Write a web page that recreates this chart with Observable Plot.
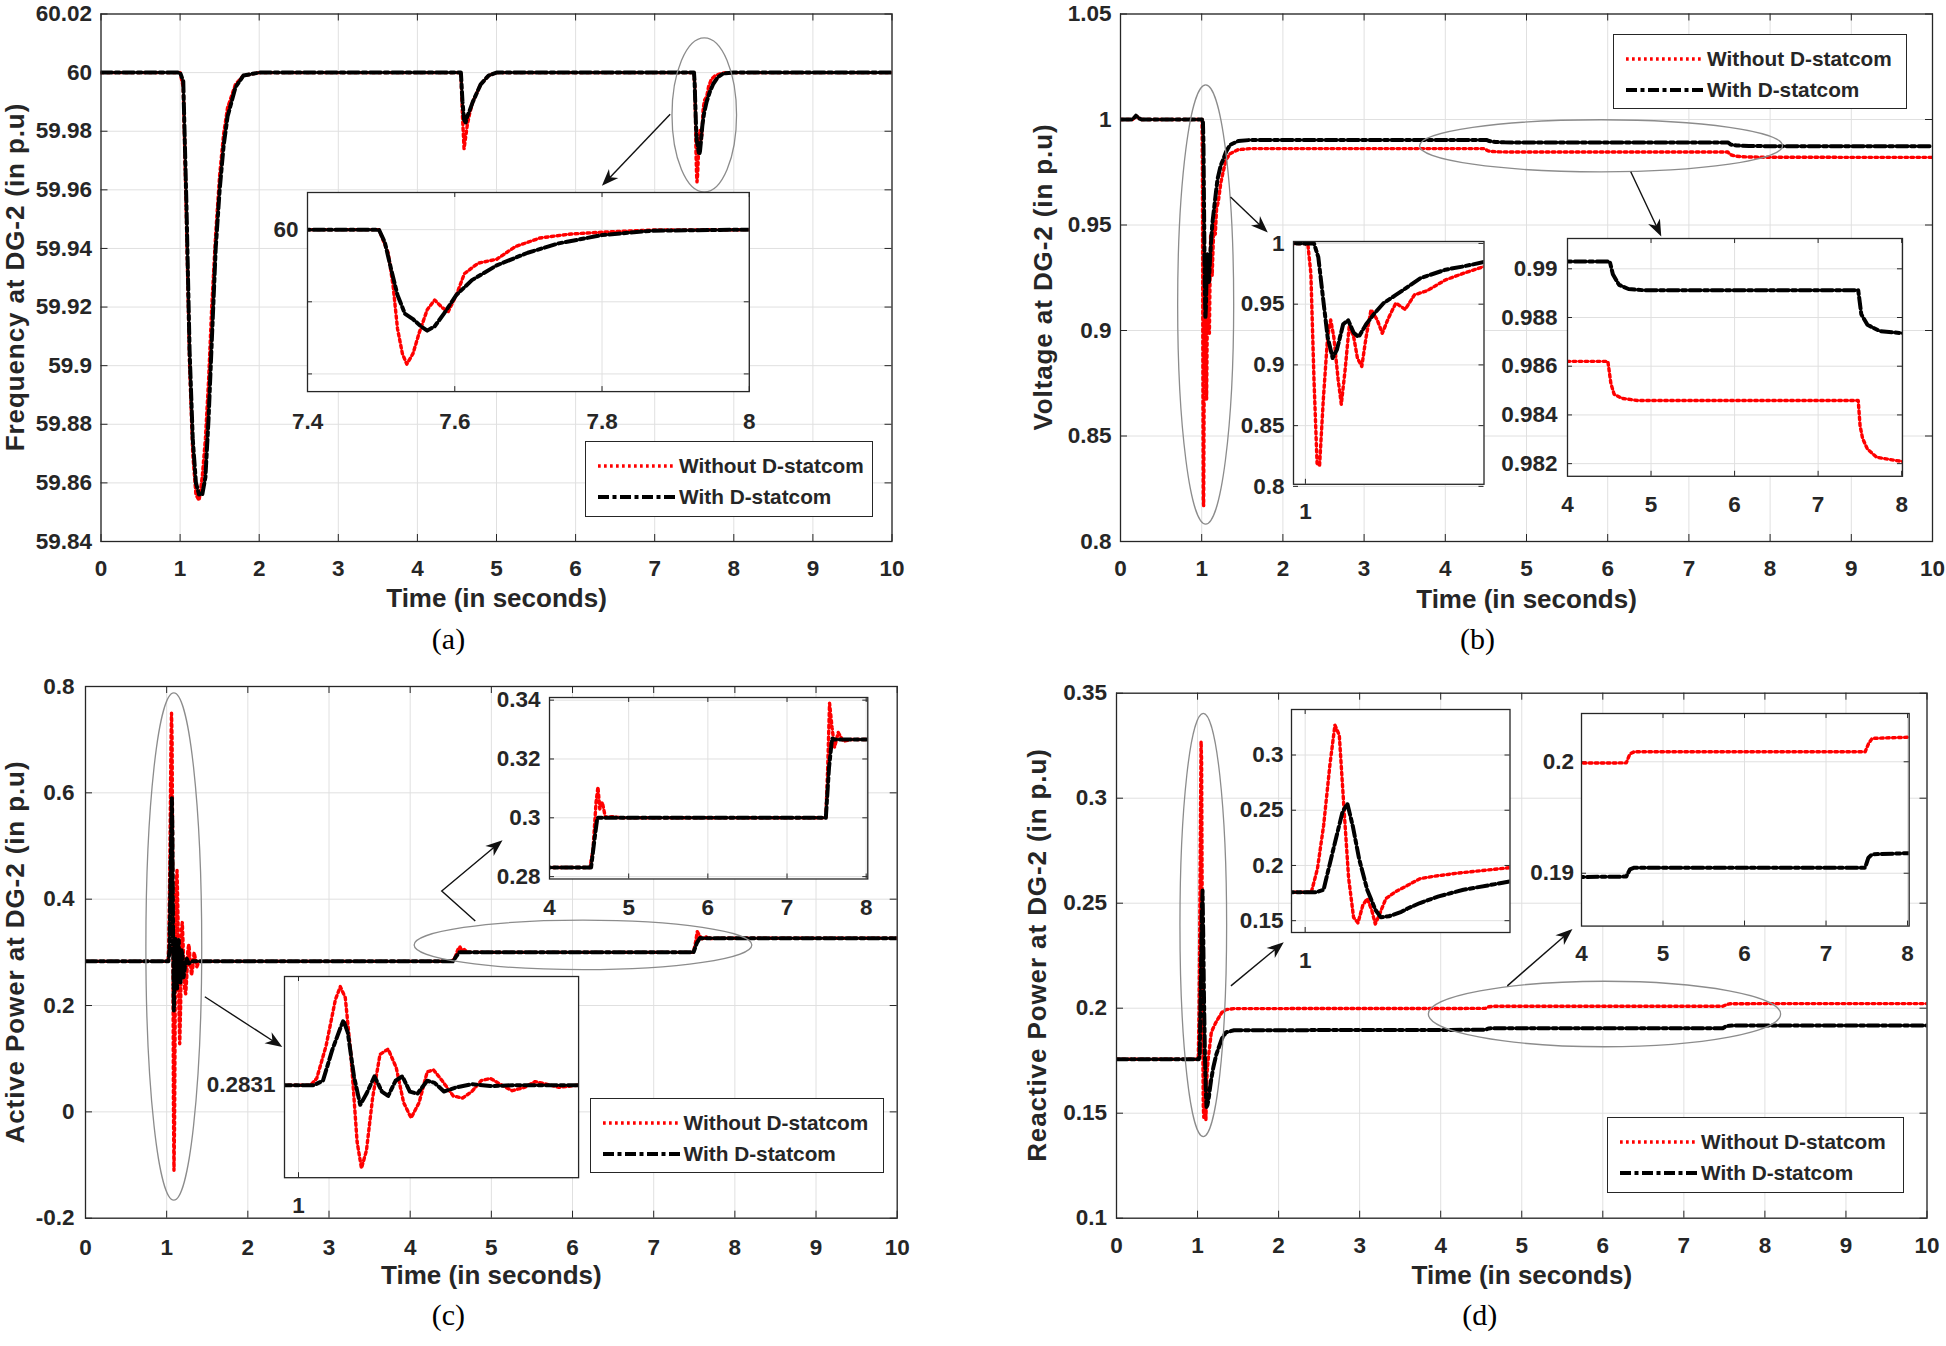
<!DOCTYPE html>
<html><head><meta charset="utf-8">
<script src="https://cdn.jsdelivr.net/npm/d3@7"></script>
<script src="https://cdn.jsdelivr.net/npm/@observablehq/plot@0.6"></script>
<style>
body{margin:0;background:#fff;}
#root{position:relative;width:1946px;height:1346px;overflow:hidden;background:#fff;font-family:"Liberation Sans",Arial,Helvetica,sans-serif;}
</style></head><body><div id="root"></div>
<script>
// ---------------- DATA ----------------
const timeTicks = [0,1,2,3,4,5,6,7,8,9,10];
const freqTicks = [59.84,59.86,59.88,59.9,59.92,59.94,59.96,59.98,60,60.02];
const voltTicks = [0.8,0.85,0.9,0.95,1,1.05];
const activeTicks = [-0.2,0,0.2,0.4,0.6,0.8];
const reactiveTicks = [0.1,0.15,0.2,0.25,0.3,0.35];
const seriesNames = ["Without D-statcom","With D-statcom"];

// (a) frequency
const freqTimeWithout = [0,1.0,1.04,1.08,1.12,1.16,1.2,1.24,1.28,1.32,1.36,1.4,1.45,1.5,1.55,1.6,1.7,1.8,2.0,
  4.55,4.57,4.59,4.61,4.63,4.66,4.7,4.75,4.8,4.9,5.0,
  7.497,7.5095,7.5163,7.5222,7.5289,7.5348,7.5432,7.5517,7.5626,7.5727,7.5828,7.5912,7.6022,7.6131,7.6317,7.657,7.6822,7.716,7.758,7.8086,7.8676,8.0,10];
const freqWithout = [60,60,59.995,59.95,59.9,59.87,59.856,59.854,59.862,59.875,59.895,59.92,59.945,59.965,59.979,59.988,59.996,59.999,60,
  60,59.985,59.974,59.978,59.982,59.986,59.99,59.993,59.996,59.999,60,
  60,59.9936,59.9843,59.9726,59.9656,59.9627,59.9656,59.9714,59.9778,59.9805,59.9784,59.9773,59.9819,59.9878,59.9907,59.9918,59.9953,59.9977,59.9988,59.9994,59.9999,60,60];
const freqTimeWith = [0,1.0,1.04,1.08,1.12,1.16,1.2,1.24,1.28,1.32,1.36,1.4,1.45,1.5,1.55,1.6,1.7,1.8,2.0,
  4.55,4.57,4.59,4.61,4.63,4.66,4.7,4.75,4.8,4.9,5.0,
  7.497,7.505,7.5137,7.5222,7.5323,7.5432,7.5542,7.5626,7.5727,7.5853,7.6022,7.6233,7.657,7.6991,7.7412,7.8002,7.8676,8.0,10];
const freqWith = [60,60,59.997,59.955,59.905,59.875,59.86,59.856,59.856,59.862,59.882,59.908,59.94,59.96,59.975,59.985,59.995,59.999,60,
  60,59.99,59.984,59.983,59.985,59.987,59.99,59.993,59.996,59.999,60,
  60,59.9965,59.9889,59.9819,59.9767,59.9752,59.9732,59.972,59.9732,59.9767,59.9819,59.986,59.9901,59.9936,59.9962,59.9985,59.9997,60,60];

// (b) voltage
const voltTimeWithout = [0,0.15,0.19,0.23,0.26,1.004,1.0092,1.0144,1.0196,1.0238,1.03,1.0373,1.0425,1.0477,1.055,1.0603,1.0665,1.0738,1.0811,1.0874,1.0947,1.102,1.1103,1.1207,1.1291,1.1395,1.152,1.1676,1.1832,1.2041,1.2354,1.2666,1.3,1.35,1.45,1.6,
  4.483,4.52,4.558,4.654,4.84,7.48,7.502,7.532,7.59,7.7,8,10];
const voltWithout = [1,1,1.0018,1.0005,1,1,0.975,0.888,0.819,0.817,0.871,0.923,0.937,0.923,0.888,0.8675,0.895,0.933,0.923,0.9056,0.8987,0.923,0.9455,0.937,0.926,0.9386,0.951,0.9456,0.9577,0.961,0.97,0.9756,0.981,0.9838,0.9857,0.9862,
  0.9862,0.98528,0.98485,0.98468,0.98459,0.98459,0.98356,0.98304,0.9826,0.98226,0.98209,0.98205];
const voltTimeWith = [0,0.15,0.19,0.23,0.26,1.0144,1.0217,1.029,1.0373,1.0457,1.053,1.0634,1.0717,1.0811,1.0894,1.102,1.1155,1.1311,1.152,1.1728,1.1937,1.2354,1.2666,1.3,1.35,1.45,1.6,
  4.506,4.543,4.617,4.73,4.91,7.48,7.517,7.59,7.74,8,10];
const voltWith = [1,1,1.0018,1.0005,1,1,0.9887,0.9576,0.923,0.9057,0.9126,0.9334,0.9369,0.9265,0.923,0.9334,0.9421,0.9508,0.9576,0.9646,0.9715,0.9784,0.9812,0.9847,0.988,0.9898,0.9903,
  0.9903,0.98978,0.98934,0.98917,0.98912,0.98912,0.98813,0.9877,0.98744,0.98736,0.98734];

// (c) active power
const activeTimeWithout = [0,1.0172,1.026,1.0394,1.0527,1.0597,1.0668,1.0748,1.0837,1.0899,1.097,1.1058,1.1164,1.128,1.1395,1.1501,1.1608,1.1723,1.1838,1.1927,1.205,1.221,1.2343,1.2476,1.2609,1.2741,1.2901,1.3052,1.3229,1.3379,1.3539,1.3716,1.4,
  4.51,4.549,4.588,4.612,4.635,4.667,4.706,4.784,4.9,7.49,7.514,7.537,7.569,7.6,7.647,7.71,7.804,8,10];
const activeWithout = [0.2831,0.2831,0.315,0.47,0.688,0.75,0.698,0.429,0.014,-0.11,-0.027,0.222,0.429,0.454,0.367,0.201,0.128,0.201,0.346,0.356,0.305,0.232,0.222,0.253,0.305,0.315,0.284,0.257,0.273,0.30,0.288,0.273,0.2831,
  0.2831,0.289,0.3053,0.3105,0.303,0.3053,0.3001,0.3004,0.3,0.3,0.3172,0.339,0.3306,0.324,0.329,0.326,0.3266,0.3266,0.3266];
const activeTimeWith = [0,1.0216,1.0349,1.0482,1.0597,1.0642,1.0704,1.0792,1.0881,1.097,1.1085,1.1191,1.128,1.1386,1.1483,1.159,1.1696,1.1838,1.1944,1.2077,1.2254,1.2476,1.2741,1.3096,1.4,
  4.525,4.565,4.604,7.49,7.53,7.569,7.6,10];
const activeWith = [0.2831,0.2831,0.304,0.45,0.553,0.59,0.532,0.325,0.19,0.242,0.325,0.253,0.232,0.304,0.325,0.253,0.242,0.304,0.294,0.253,0.273,0.288,0.279,0.2831,0.2831,
  0.2831,0.292,0.3,0.3,0.317,0.327,0.3266,0.3266];

// (d) reactive power
const reactiveTimeWithout = [0,1.009,1.018,1.027,1.0364,1.0436,1.05,1.0564,1.0636,1.0709,1.0773,1.0845,1.0909,1.0973,1.1027,1.1091,1.1182,1.1318,1.15,1.1682,1.1864,1.2227,1.3,1.35,1.45,
  4.549,4.594,4.648,7.48,7.52,7.566,8,10];
const reactiveWithout = [0.1757,0.1757,0.197,0.236,0.292,0.327,0.318,0.256,0.189,0.153,0.148,0.164,0.17,0.16,0.147,0.156,0.17,0.176,0.182,0.188,0.19,0.193,0.198,0.1993,0.1998,
  0.1999,0.2007,0.2009,0.2009,0.2016,0.2021,0.2022,0.2022];
const reactiveTimeWith = [0,1.0164,1.027,1.041,1.0545,1.0618,1.07,1.079,1.0909,1.1027,1.1109,1.1227,1.1409,1.15,1.1682,1.1955,1.2318,1.3,1.35,1.45,
  4.549,4.594,4.648,7.48,7.52,7.566,8,10];
const reactiveWith = [0.1757,0.1757,0.178,0.214,0.248,0.256,0.235,0.206,0.178,0.16,0.153,0.154,0.158,0.161,0.166,0.172,0.178,0.1855,0.1885,0.1895,
  0.1897,0.19035,0.1905,0.1905,0.1914,0.1917,0.1918,0.1918];

// inset tick values
const insetA_xTicks = [7.4,7.6,7.8,8], insetA_yGrid = [59.96,59.98,60], insetA_yLabels = [60];
const insetB1_xTicks = [1], insetB1_yTicks = [0.8,0.85,0.9,0.95,1];
const insetB2_xTicks = [4,5,6,7,8], insetB2_yTicks = [0.982,0.984,0.986,0.988,0.99];
const insetC1_xTicks = [1], insetC1_yTicks = [0.2831];
const insetC2_xTicks = [4,5,6,7,8], insetC2_yTicks = [0.28,0.3,0.32,0.34];
const insetD1_xTicks = [1], insetD1_yTicks = [0.15,0.2,0.25,0.3];
const insetD2_xTicks = [4,5,6,7,8], insetD2_yTicks = [0.19,0.2];

// ---------------- STYLE / HELPERS ----------------
const root = document.getElementById("root");
const FONT = '"Liberation Sans", Arial, Helvetica, sans-serif';
const SERIF = '"Liberation Serif", "Times New Roman", serif';
const INK = "#262626", GRID = "#e0e0e0";
const TICKFS = 22.5, TITLEFS = 26;
const redStyle = {stroke: "#ff0000", strokeWidth: 3.4, strokeDasharray: "2.7 3.3"};
const blackStyle = {stroke: "#000000", strokeWidth: 4, strokeDasharray: "11 3.5 4 3.5"};
const fmt = d => `${d}`;
const pts = (times, vals) => times.map((t, i) => ({t, v: vals[i]}));

function ellipseMark(e) {
  return (index, {x, y}) => {
    const g = d3.create("svg:g");
    g.append("ellipse").attr("cx", x(e.t)).attr("cy", y(e.v))
      .attr("rx", Math.abs(x(e.t + e.rt) - x(e.t))).attr("ry", Math.abs(y(e.v + e.rv) - y(e.v)))
      .attr("fill", "none").attr("stroke", "#8c8c8c").attr("stroke-width", 1.3);
    return g.node();
  };
}
function arrowMark(path) {
  return (index, {x, y}) => {
    const P = path.map(p => [x(p[0]), y(p[1])]);
    const g = d3.create("svg:g");
    const [x1, y1] = P[P.length - 2], [x2, y2] = P[P.length - 1];
    const a = Math.atan2(y2 - y1, x2 - x1), ca = Math.cos(a), sa = Math.sin(a);
    const L = 17, W = 6.5;
    const line = P.slice(0, -1).concat([[x2 - L * 0.6 * ca, y2 - L * 0.6 * sa]]);
    g.append("path").attr("d", "M" + line.map(p => p.join(",")).join("L"))
      .attr("fill", "none").attr("stroke", "#111").attr("stroke-width", 1.4);
    const bx = x2 - L * ca, by = y2 - L * sa, nx = -sa, ny = ca;
    const mx = x2 - L * 0.7 * ca, my = y2 - L * 0.7 * sa;
    g.append("path").attr("d", `M${x2},${y2}L${bx + W * nx},${by + W * ny}L${mx},${my}L${bx - W * nx},${by - W * ny}Z`)
      .attr("fill", "#111");
    return g.node();
  };
}

function yTitle(text, cx, cy) {
  const d = document.createElement("div");
  d.textContent = text;
  Object.assign(d.style, {position: "absolute", left: cx + "px", top: cy + "px", transform: "translate(-50%,-50%) rotate(-90deg)",
    fontFamily: FONT, fontWeight: "bold", fontSize: TITLEFS + "px", letterSpacing: "0.9px", color: INK, whiteSpace: "nowrap", lineHeight: "0.9"});
  root.appendChild(d);
}

function chart(c) {
  const S = c.svg, F = c.frame;
  const mL = F.left - S.left, mT = F.top - S.top;
  const mR = S.left + S.width - F.right, mB = S.top + S.height - F.bottom;
  const fw = F.right - F.left, fh = F.bottom - F.top, tl = c.tickLen || 7;
  const fs = TICKFS;
  const marks = [];
  if (c.inset) marks.push(Plot.frame({fill: "#fff", stroke: "none"}));
  marks.push(Plot.ruleX(c.xGrid, {x: d => d, stroke: GRID, strokeWidth: 1}));
  marks.push(Plot.ruleY(c.yGrid, {y: d => d, stroke: GRID, strokeWidth: 1}));
  marks.push(Plot.ruleX(c.xGrid, {x: d => d, insetTop: fh - tl, stroke: INK}));
  marks.push(Plot.ruleX(c.xGrid, {x: d => d, insetBottom: fh - tl, stroke: INK}));
  marks.push(Plot.ruleY(c.yGrid, {y: d => d, insetRight: fw - tl, stroke: INK}));
  marks.push(Plot.ruleY(c.yGrid, {y: d => d, insetLeft: fw - tl, stroke: INK}));
  c.series.forEach(s => marks.push(Plot.line(s.data, {x: "t", y: "v", clip: true, ...s.style})));
  (c.extras || []).forEach(m => marks.push(m));
  marks.push(Plot.frame({stroke: INK, strokeWidth: 1.3}));
  marks.push(Plot.axisX({ticks: c.xLabels, tickSize: 0, tickPadding: c.xPad, tickFormat: fmt, label: null, fontSize: fs}));
  marks.push(Plot.axisY({ticks: c.yLabels, tickSize: 0, tickPadding: c.yPad, tickFormat: fmt, label: null, fontSize: fs}));
  if (c.xTitle) marks.push(Plot.text([c.xTitle], {text: d => d, frameAnchor: "bottom", dy: c.xTitleDy, fontSize: TITLEFS, fontWeight: "bold"}));
  if (c.caption) marks.push(Plot.text([c.caption], {text: d => d, frameAnchor: "bottom", dx: c.captionDx, dy: c.captionDy, fontSize: 30, fontWeight: "normal", fontFamily: SERIF, fill: "#000"}));
  const svg = Plot.plot({
    width: S.width, height: S.height,
    marginLeft: mL, marginRight: mR, marginTop: mT, marginBottom: mB,
    x: {type: "linear", domain: c.xDomain}, y: {type: "linear", domain: c.yDomain},
    style: {position: "absolute", left: S.left + "px", top: S.top + "px", background: "transparent",
      overflow: "visible", color: INK, fontFamily: FONT, fontWeight: "bold", fontSize: fs + "px", maxWidth: "none"},
    marks
  });
  root.appendChild(svg);
  return svg;
}

function inset(frame, cfg) {
  const S = {left: frame.left - 80, top: frame.top - 12, width: frame.right - frame.left + 100, height: frame.bottom - frame.top + 60};
  return chart({inset: true, svg: S, frame, tickLen: 5, ...cfg});
}

function legend(box) {
  const div = document.createElement("div");
  Object.assign(div.style, {position: "absolute", left: box.left + "px", top: box.top + "px", width: box.width + "px",
    height: box.height + "px", border: "1.3px solid " + INK, background: "#fff", boxSizing: "border-box"});
  [redStyle, blackStyle].forEach((st, i) => {
    const cy = i === 0 ? 24 : 55;
    const ns = "http://www.w3.org/2000/svg";
    const s = document.createElementNS(ns, "svg");
    s.setAttribute("width", 77); s.setAttribute("height", 12);
    Object.assign(s.style, {position: "absolute", left: "12px", top: (cy - 6) + "px"});
    const ln = document.createElementNS(ns, "line");
    ln.setAttribute("x1", 0); ln.setAttribute("x2", 77); ln.setAttribute("y1", 6); ln.setAttribute("y2", 6);
    ln.setAttribute("stroke", st.stroke); ln.setAttribute("stroke-width", st.strokeWidth);
    ln.setAttribute("stroke-dasharray", st.strokeDasharray);
    s.appendChild(ln); div.appendChild(s);
    const t = document.createElement("span");
    t.textContent = seriesNames[i];
    Object.assign(t.style, {position: "absolute", left: "93px", top: cy + "px", transform: "translateY(-50%)",
      fontFamily: FONT, fontWeight: "bold", fontSize: "20.8px", color: INK, whiteSpace: "nowrap", lineHeight: "1"});
    div.appendChild(t);
  });
  root.appendChild(div);
}

// ---------------- PANEL (a) ----------------
const A = [{data: pts(freqTimeWithout, freqWithout), style: redStyle}, {data: pts(freqTimeWith, freqWith), style: blackStyle}];
chart({
  svg: {left: 0, top: 0, width: 973, height: 665}, frame: {left: 100.5, top: 13.5, right: 891.5, bottom: 541},
  xDomain: [0, 10], yDomain: [59.84, 60.02], xGrid: timeTicks, xLabels: timeTicks, yGrid: freqTicks, yLabels: freqTicks,
  xPad: 19, yPad: 9, series: A,
  xTitle: "Time (in seconds)", xTitleDy: 65, caption: "(a)", captionDx: -48, captionDy: 107,
  extras: [ellipseMark({t: 7.633, v: 59.9854, rt: 0.408, rv: 0.0263}), arrowMark([[7.202, 59.9856], [6.339, 59.9612]])]
});
yTitle("Frequency at DG-2 (in p.u)", 15.5, 277);
inset({left: 307.2, top: 192.3, right: 749, bottom: 391.4}, {
  xDomain: [7.4, 8], yDomain: [59.9551, 60.0103], xGrid: insetA_xTicks, xLabels: insetA_xTicks, yGrid: insetA_yGrid, yLabels: insetA_yLabels,
  xPad: 21.5, yPad: 9, series: A
});
legend({left: 585, top: 441, width: 288, height: 76});

// ---------------- PANEL (b) ----------------
const B = [{data: pts(voltTimeWithout, voltWithout), style: redStyle}, {data: pts(voltTimeWith, voltWith), style: blackStyle}];
chart({
  svg: {left: 973, top: 0, width: 973, height: 665}, frame: {left: 1120, top: 13.5, right: 1932, bottom: 541},
  xDomain: [0, 10], yDomain: [0.8, 1.05], xGrid: timeTicks, xLabels: timeTicks, yGrid: voltTicks, yLabels: voltTicks,
  xPad: 19, yPad: 9, series: B,
  xTitle: "Time (in seconds)", xTitleDy: 66, caption: "(b)", captionDx: -49, captionDy: 107,
  extras: [ellipseMark({t: 1.055, v: 0.9121, rt: 0.345, rv: 0.1041}), ellipseMark({t: 5.924, v: 0.9873, rt: 2.235, rv: 0.01235}),
    arrowMark([[1.361, 0.963], [1.82, 0.9462]]), arrowMark([[6.29, 0.975], [6.666, 0.9443]])]
});
yTitle("Voltage at DG-2 (in p.u)", 1044, 277);
inset({left: 1292.6, top: 241.2, right: 1483.1, bottom: 484}, {
  xDomain: [0.98, 1.3], yDomain: [0.8017, 1.0016], xGrid: insetB1_xTicks, xLabels: insetB1_xTicks, yGrid: insetB1_yTicks, yLabels: insetB1_yTicks,
  xPad: 19, yPad: 9, series: B
});
inset({left: 1566.9, top: 237.8, right: 1901.9, bottom: 475.6}, {
  xDomain: [4, 8.01], yDomain: [0.98148, 0.991244], xGrid: insetB2_xTicks, xLabels: insetB2_xTicks, yGrid: insetB2_yTicks, yLabels: insetB2_yTicks,
  xPad: 19.5, yPad: 10, series: B
});
legend({left: 1613, top: 33.7, width: 294, height: 75});

// ---------------- PANEL (c) ----------------
const C = [{data: pts(activeTimeWithout, activeWithout), style: redStyle}, {data: pts(activeTimeWith, activeWith), style: blackStyle}];
chart({
  svg: {left: 0, top: 660, width: 973, height: 686}, frame: {left: 85, top: 686, right: 896.7, bottom: 1217.7},
  xDomain: [0, 10], yDomain: [-0.2, 0.8], xGrid: timeTicks, xLabels: timeTicks, yGrid: activeTicks, yLabels: activeTicks,
  xPad: 20.5, yPad: 11, series: C,
  xTitle: "Time (in seconds)", xTitleDy: 65.5, caption: "(c)", captionDx: -43, captionDy: 106.5,
  extras: [ellipseMark({t: 1.094, v: 0.31, rt: 0.344, rv: 0.477}), ellipseMark({t: 6.135, v: 0.313, rt: 2.08, rv: 0.0465}),
    arrowMark([[1.476, 0.2155], [2.431, 0.121]]), arrowMark([[4.808, 0.358], [4.395, 0.4144], [5.144, 0.51]])]
});
yTitle("Active Power at DG-2 (in p.u)", 15.5, 952);
inset({left: 284.2, top: 975.8, right: 578.3, bottom: 1177}, {
  xDomain: [0.98, 1.4], yDomain: [-0.155, 0.7978], xGrid: insetC1_xTicks, xLabels: insetC1_xTicks, yGrid: insetC1_yTicks, yLabels: insetC1_yTicks,
  xPad: 19.5, yPad: 9, series: C
});
inset({left: 549.2, top: 697.2, right: 867.5, bottom: 878.7}, {
  xDomain: [4, 8.02], yDomain: [0.2792, 0.3409], xGrid: insetC2_xTicks, xLabels: insetC2_xTicks, yGrid: insetC2_yTicks, yLabels: insetC2_yTicks,
  xPad: 20.5, yPad: 9, series: C
});
legend({left: 589.5, top: 1097.5, width: 294.5, height: 75});

// ---------------- PANEL (d) ----------------
const D = [{data: pts(reactiveTimeWithout, reactiveWithout), style: redStyle}, {data: pts(reactiveTimeWith, reactiveWith), style: blackStyle}];
chart({
  svg: {left: 973, top: 660, width: 973, height: 686}, frame: {left: 1116, top: 692.7, right: 1926.5, bottom: 1217.7},
  xDomain: [0, 10], yDomain: [0.1, 0.35], xGrid: timeTicks, xLabels: timeTicks, yGrid: reactiveTicks, yLabels: reactiveTicks,
  xPad: 18.5, yPad: 9.5, series: D,
  xTitle: "Time (in seconds)", xTitleDy: 65.5, caption: "(d)", captionDx: -42, captionDy: 106.5,
  extras: [ellipseMark({t: 1.077, v: 0.2394, rt: 0.288, rv: 0.1008}), ellipseMark({t: 6.027, v: 0.197, rt: 2.173, rv: 0.0156}),
    arrowMark([[1.418, 0.2104], [2.07, 0.2312]]), arrowMark([[4.828, 0.2104], [5.632, 0.2375]])]
});
yTitle("Reactive Power at DG-2 (in p.u)", 1038, 955);
inset({left: 1291.3, top: 709, right: 1509.8, bottom: 932}, {
  xDomain: [0.98, 1.3], yDomain: [0.1393, 0.3412], xGrid: insetD1_xTicks, xLabels: insetD1_xTicks, yGrid: insetD1_yTicks, yLabels: insetD1_yTicks,
  xPad: 19.5, yPad: 8, series: D
});
inset({left: 1581.1, top: 713.4, right: 1908.8, bottom: 926}, {
  xDomain: [4, 8.02], yDomain: [0.18526, 0.20433], xGrid: insetD2_xTicks, xLabels: insetD2_xTicks, yGrid: insetD2_yTicks, yLabels: insetD2_yTicks,
  xPad: 19, yPad: 7.5, series: D
});
legend({left: 1607, top: 1117, width: 297, height: 76});
</script></body></html>
